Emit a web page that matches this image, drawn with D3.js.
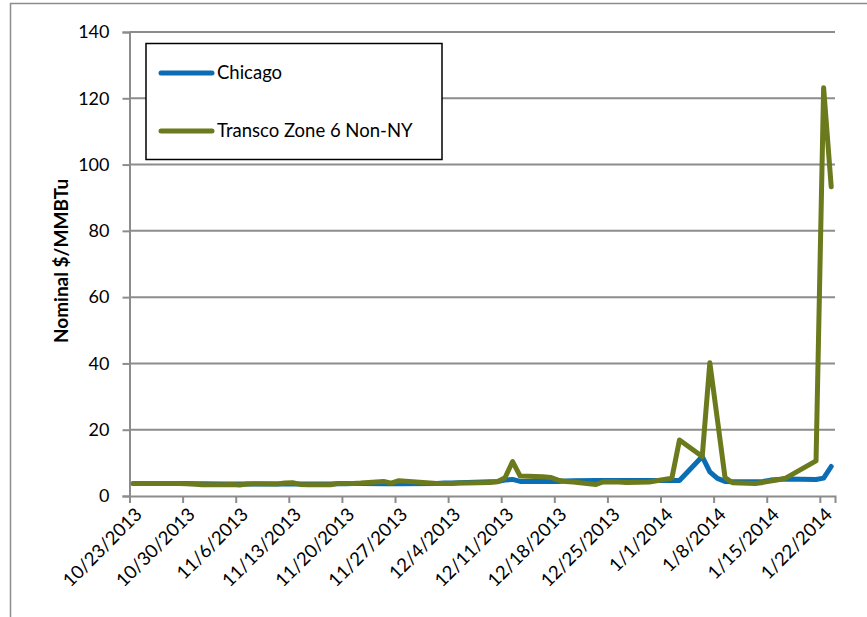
<!DOCTYPE html>
<html>
<head>
<meta charset="utf-8">
<script src="https://cdn.jsdelivr.net/npm/d3@7"></script>
<style>
  html, body { margin: 0; padding: 0; background: #fff; }
  svg { display: block; }
  text { font-family: Lato, "Open Sans", sans-serif; fill: #000; }
</style>
</head>
<body>
<svg id="chart" width="867" height="617"></svg>
<script>
// ---------- data ----------
const dates = [
  "10/23/2013","10/24/2013","10/25/2013","10/28/2013","10/29/2013","10/30/2013","10/31/2013",
  "11/1/2013","11/4/2013","11/5/2013","11/6/2013","11/7/2013","11/8/2013",
  "11/11/2013","11/12/2013","11/13/2013","11/14/2013","11/15/2013",
  "11/18/2013","11/19/2013","11/20/2013","11/21/2013","11/22/2013",
  "11/25/2013","11/26/2013","11/27/2013",
  "12/2/2013","12/3/2013","12/4/2013","12/5/2013","12/6/2013",
  "12/9/2013","12/10/2013","12/11/2013","12/12/2013","12/13/2013",
  "12/16/2013","12/17/2013","12/18/2013","12/19/2013","12/20/2013",
  "12/23/2013","12/24/2013","12/26/2013","12/27/2013",
  "12/30/2013","12/31/2013","1/2/2014","1/3/2014",
  "1/6/2014","1/7/2014","1/8/2014","1/9/2014","1/10/2014",
  "1/13/2014","1/14/2014","1/15/2014","1/16/2014","1/17/2014",
  "1/21/2014","1/22/2014","1/23/2014"
];
const chicago = [
  3.8,3.8,3.8,3.8,3.8,3.75,3.7,
  3.7,3.6,3.6,3.6,3.6,3.6,
  3.6,3.6,3.6,3.6,3.6,
  3.6,3.7,3.7,3.8,3.8,
  3.7,3.7,3.7,
  3.8,3.9,3.9,4.0,4.1,
  4.3,4.4,4.8,5.0,4.4,
  4.4,4.4,4.4,4.5,4.6,
  4.7,4.7,4.7,4.7,
  4.7,4.7,4.7,4.7,
  11.9,7.3,5.3,4.4,4.3,
  4.3,4.4,4.8,5.0,5.1,
  5.0,5.4,8.9
];
const transco = [
  3.8,3.8,3.8,3.8,3.75,3.7,3.6,
  3.4,3.4,3.5,3.3,3.6,3.7,
  3.6,3.9,4.0,3.5,3.4,
  3.4,3.8,3.8,3.8,3.9,
  4.4,3.9,4.6,
  3.8,3.8,3.8,3.9,3.9,
  4.1,4.3,5.5,10.4,6.0,
  5.8,5.6,4.8,4.4,4.2,
  3.5,4.3,4.2,4.1,
  4.2,4.6,5.4,16.9,
  11.9,40.2,23.0,5.6,4.0,
  3.8,4.1,4.5,4.9,5.4,
  10.6,123.2,93.3
];
const seriesNames = ["Chicago", "Transco Zone 6 Non-NY"];
const seriesColors = ["#0B6DB3", "#6A7A1C"];
const yTicks = [0, 20, 40, 60, 80, 100, 120, 140];
const xTickLabels = ["10/23/2013","10/30/2013","11/6/2013","11/13/2013","11/20/2013","11/27/2013",
  "12/4/2013","12/11/2013","12/18/2013","12/25/2013","1/1/2014","1/8/2014","1/15/2014","1/22/2014"];
const yTitle = "Nominal $/MMBTu";

// ---------- setup ----------
const parse = d3.utcParse("%m/%d/%Y");
const svg = d3.select("#chart");
const pLeft = 129.5, pRight = 835, pTop = 32, pBottom = 496;
const halfDay = 12 * 3600 * 1000;

const x = d3.scaleUtc()
  .domain([parse("10/23/2013"), parse("1/24/2014")])
  .range([pLeft, pRight]);
const y = d3.scaleLinear().domain([0, 140]).range([pBottom, pTop]);

// outer frame
svg.append("rect")
  .attr("x", 10.5).attr("y", 3.5).attr("width", 900).attr("height", 700)
  .attr("fill", "none").attr("stroke", "#8c8c8c").attr("stroke-width", 1.5);

const gridColor = "#8c8c8c";

// gridlines
svg.append("g").selectAll("line")
  .data(yTicks.filter(d => d > 0))
  .join("line")
  .attr("x1", pLeft).attr("x2", pRight)
  .attr("y1", d => y(d)).attr("y2", d => y(d))
  .attr("stroke", gridColor).attr("stroke-width", 2);

// y axis
const yAxis = svg.append("g")
  .attr("transform", `translate(${pLeft},0)`)
  .call(d3.axisLeft(y).tickValues(yTicks).tickSize(7).tickPadding(13).tickFormat(d3.format("d")));
yAxis.select(".domain").attr("stroke", gridColor).attr("stroke-width", 2);
yAxis.selectAll(".tick line").attr("stroke", gridColor).attr("stroke-width", 2);
yAxis.selectAll(".tick text").attr("font-size", 18).attr("font-family", "Lato, sans-serif").attr("fill", "#000");

// x axis
const xTickDates = xTickLabels.map(parse);
const xAxis = svg.append("g")
  .attr("transform", `translate(0,${pBottom})`)
  .call(d3.axisBottom(x).tickValues(xTickDates).tickSize(7).tickFormat(() => ""));
xAxis.select(".domain").attr("stroke", gridColor).attr("stroke-width", 2);
xAxis.selectAll(".tick line").attr("stroke", gridColor).attr("stroke-width", 2);
xAxis.selectAll(".tick text").remove();

svg.append("g").selectAll("text")
  .data(xTickLabels)
  .join("text")
  .attr("transform", d => `translate(${x(parse(d)) + 9},${pBottom + 15}) rotate(-45)`)
  .attr("text-anchor", "end")
  .attr("dy", "0.35em")
  .attr("font-size", 18.5)
  .text(d => d);

// y title
svg.append("text")
  .attr("transform", `translate(61,${(pTop + pBottom) / 2 - 3}) rotate(-90)`)
  .attr("text-anchor", "middle")
  .attr("dy", "0.35em")
  .attr("font-size", 19)
  .attr("font-weight", "bold")
  .text(yTitle);

// lines
const line = d3.line()
  .x(d => x(new Date(parse(d.date).getTime() + halfDay)))
  .y(d => y(d.v));

[chicago, transco].forEach((vals, i) => {
  const pts = dates.map((d, j) => ({ date: d, v: vals[j] }));
  svg.append("path")
    .datum(pts)
    .attr("d", line)
    .attr("fill", "none")
    .attr("stroke", seriesColors[i])
    .attr("stroke-width", 5)
    .attr("stroke-linejoin", "round")
    .attr("stroke-linecap", "round");
});

// legend
const lg = svg.append("g");
lg.append("rect")
  .attr("x", 146).attr("y", 43.5).attr("width", 296).attr("height", 116)
  .attr("fill", "#fff").attr("stroke", "#000").attr("stroke-width", 1.5);
seriesNames.forEach((name, i) => {
  const ly = 73 + i * 58;
  lg.append("line")
    .attr("x1", 161).attr("x2", 212).attr("y1", ly).attr("y2", ly)
    .attr("stroke", seriesColors[i]).attr("stroke-width", 5).attr("stroke-linecap", "round");
  lg.append("text")
    .attr("x", 217).attr("y", ly).attr("dy", "0.35em")
    .attr("font-size", 18.5)
    .text(name);
});
</script>
</body>
</html>
